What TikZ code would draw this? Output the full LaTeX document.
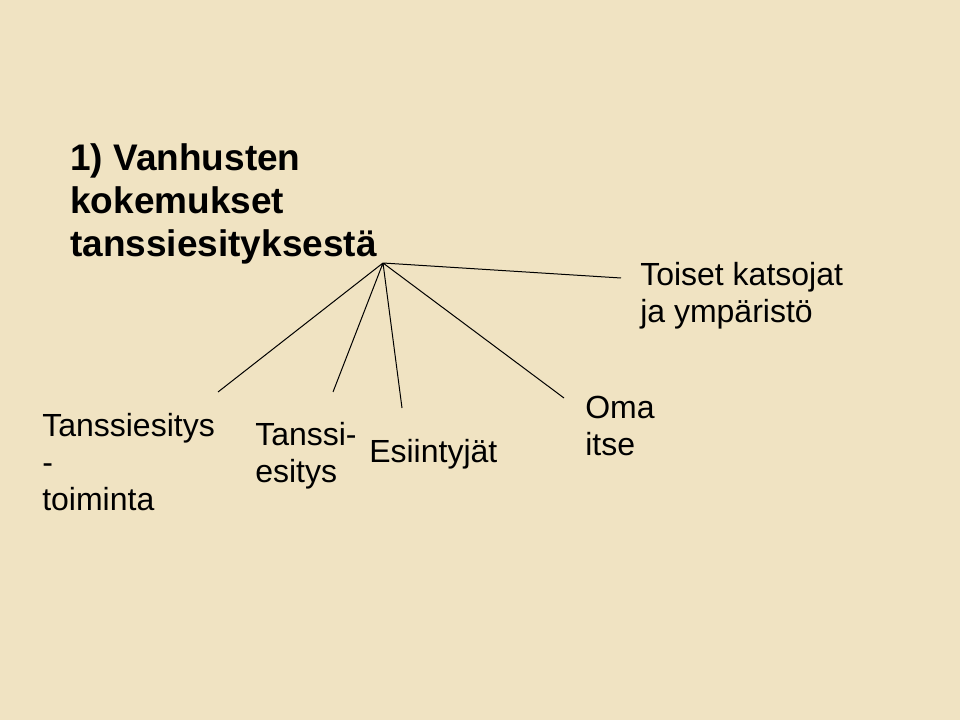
\documentclass[tikz,border=0pt]{standalone}
\usepackage{fontspec}
\setmainfont{Liberation Sans}
\usepackage{tikz}
\usepackage{xcolor}
\usetikzlibrary{positioning}
\definecolor{parchment}{RGB}{240,227,194}

\begin{document}
\begin{tikzpicture}[x=0.75pt, y=-0.75pt,
    lbl/.style={anchor=base west, inner sep=0pt, align=left,
        font=\fontsize{24}{27.75}\selectfont},
    ttl/.style={anchor=base west, inner sep=0pt, align=left,
        font=\fontsize{27.75}{32.25}\selectfont\bfseries}]
                        \fill[parchment] (0, 0) rectangle (960, 720);
                        \useasboundingbox (0, 0) rectangle (960, 720);
                        % base anchor sits on the last line
                        \node[ttl] (t) at (70, 257) {1) Vanhusten\\kokemukset\\tanssiesityksestä};
                        \node[lbl] (a) at (42, 510) {Tanssiesitys\\-\\toiminta};
                        \node[lbl] (b) at (255, 482) {Tanssi-\\esitys};
                        \node[lbl] (c) at (369, 462) {Esiintyjät};
                        \node[lbl] (d) at (585, 455) {Oma\\itse};
                        \node[lbl] (e) at (640, 322) {Toiset katsojat\\ja ympäristö};
                        \coordinate (h) at (383, 263);
                        \coordinate (ae) at (218, 392);
                        \coordinate (be) at (333, 392);
                        \coordinate (ce) at (402, 408);
                        \coordinate (de) at (564, 398);
                        \coordinate (ee) at (621, 278);
                        \draw[line width=0.75pt]
                        (h) -- (ae) (h) -- (be)
                        (h) -- (ce) (h) -- (de)
                        (h) -- (ee);
                    \end{tikzpicture}
\end{document}
